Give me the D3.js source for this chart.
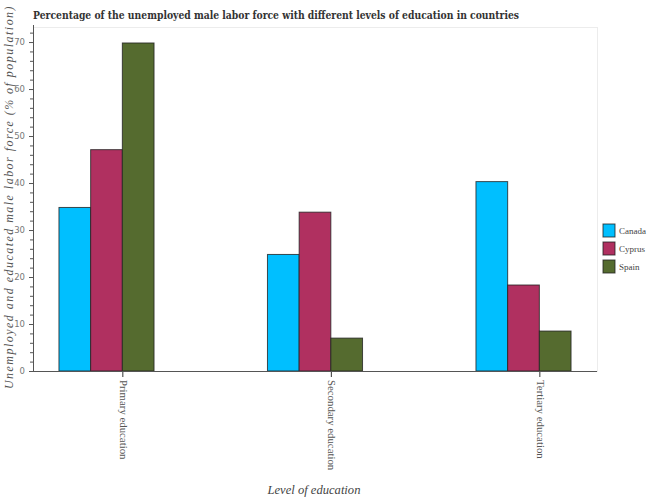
<!DOCTYPE html>
<html>
<head>
<meta charset="utf-8">
<script src="https://cdn.jsdelivr.net/npm/d3@7"></script>
<style>
  body { margin: 0; background: #fff; }
  svg { display: block; }
</style>
</head>
<body>
<div id="chart"></div>
<script>
// chart data
const levels = ["Primary education", "Secondary education", "Tertiary education"];
const countries = ["Canada", "Cyprus", "Spain"];
const canadaValues = [34.8, 24.8, 40.3];
const cyprusValues = [47.1, 33.8, 18.3];
const spainValues = [69.8, 7.0, 8.5];
const yTicks = [0, 10, 20, 30, 40, 50, 60, 70];
const colors = ["#00bfff", "#b03060", "#556b2f"];

const width = 650;
const height = 500;
const marginTop = 27;
const marginRight = 53;
const marginBottom = 129;
const marginLeft = 33;

const series = [canadaValues, cyprusValues, spainValues];
const rows = [];
levels.forEach((lvl, i) => {
    countries.forEach((c, j) => {
        rows.push({ level: lvl, country: c, value: series[j][i] });
    });
});

const svg = d3.select("#chart")
    .append("svg")
    .attr("width", width)
    .attr("height", height)
    .attr("viewBox", [0, 0, width, height]);

// shrink/grow a text's font size so it covers roughly the given length
function fitText(sel, target) {
    const node = sel.node();
    const size = parseFloat(sel.style("font-size"));
    const len = node.getComputedTextLength();
    if (len > 0) sel.style("font-size", (size * target / len).toFixed(2) + "px");
}

// spread letters so the text covers roughly the given length
function spreadText(sel, target) {
    const node = sel.node();
    const len = node.getComputedTextLength();
    const n = sel.text().length;
    if (len > 0) sel.style("letter-spacing", ((target - len) / n).toFixed(2) + "px");
}

// scales
const x0 = d3.scaleBand()
    .domain(levels)
    .range([marginLeft, width - marginRight])
    .paddingInner(0.544)
    .paddingOuter(0.1245);

const x1 = d3.scaleBand()
    .domain(countries)
    .range([0, x0.bandwidth()]);

const y = d3.scaleLinear()
    .domain([0, 73.2])
    .range([height - marginBottom, marginTop]);

const color = d3.scaleOrdinal().domain(countries).range(colors);

// plot frame
svg.append("rect")
    .attr("x", marginLeft + 0.5)
    .attr("y", marginTop + 0.5)
    .attr("width", width - marginRight - marginLeft)
    .attr("height", height - marginBottom - marginTop)
    .attr("fill", "none")
    .attr("stroke", "#ececec")
    .attr("stroke-width", 1);

// bars
svg.append("g")
    .selectAll("rect")
    .data(rows)
    .join("rect")
    .attr("x", d => x0(d.level) + x1(d.country))
    .attr("y", d => y(d.value))
    .attr("width", x1.bandwidth())
    .attr("height", d => y(0) - y(d.value))
    .attr("fill", d => color(d.country))
    .attr("stroke", "#222")
    .attr("stroke-opacity", 0.8)
    .attr("stroke-width", 1);

// y axis with minor ticks
const yAxis = svg.append("g")
    .attr("transform", `translate(${marginLeft},0)`)
    .call(d3.axisLeft(y).tickValues(yTicks).tickSize(4).tickSizeOuter(0).tickPadding(4));

svg.append("g")
    .attr("transform", `translate(${marginLeft},0)`)
    .selectAll("line")
    .data(d3.range(0, 73, 2).filter(v => v % 10 !== 0))
    .join("line")
    .attr("x1", -3)
    .attr("x2", 0)
    .attr("y1", d => y(d) + 0.5)
    .attr("y2", d => y(d) + 0.5)
    .attr("stroke", "#555");

yAxis.select(".domain").attr("stroke", "#555").attr("d", `M0.5,${y(0)}V${marginTop - 2}`);
yAxis.selectAll(".tick line").attr("stroke", "#555").attr("x2", -4).attr("x1", 1);
yAxis.selectAll(".tick text")
    .attr("fill", "#777")
    .style("font-family", "'DejaVu Sans', sans-serif")
    .style("font-size", "8.5px");

// x axis: ticks sit between the 2nd and 3rd bar of each group
const xTick = d3.scaleOrdinal()
    .domain(levels)
    .range(levels.map(l => x0(l) + x1("Spain")));

const xAxis = svg.append("g")
    .attr("transform", `translate(0,${height - marginBottom})`)
    .call(d3.axisBottom(xTick).tickSize(6).tickPadding(4));

xAxis.select(".domain").remove();
xAxis.selectAll(".tick line").attr("stroke", "#333");
xAxis.selectAll(".tick text")
    .attr("transform", "rotate(90)")
    .attr("x", 9)
    .attr("y", -0.5)
    .attr("dy", "0.35em")
    .attr("text-anchor", "start")
    .attr("fill", "#555")
    .style("font-family", "'Liberation Serif', serif")
    .style("font-size", "10.8px");

svg.append("line")
    .attr("x1", marginLeft)
    .attr("x2", width - marginRight)
    .attr("y1", y(0) + 0.5)
    .attr("y2", y(0) + 0.5)
    .attr("stroke", "#555");

// title
const title = svg.append("text")
    .attr("x", marginLeft)
    .attr("y", 19)
    .attr("fill", "#333")
    .style("font-family", "'DejaVu Serif Condensed', 'DejaVu Serif', serif")
    .style("font-stretch", "condensed")
    .style("font-weight", "bold")
    .style("font-size", "11.5px")
    .text("Percentage of the unemployed male labor force with different levels of education in countries");
fitText(title, 486);

// axis titles
const yTitle = svg.append("text")
    .attr("transform", `translate(13,197) rotate(-90)`)
    .attr("text-anchor", "middle")
    .attr("fill", "#555")
    .style("font-family", "'Liberation Serif', serif")
    .style("font-style", "italic")
    .style("font-size", "12px")
    .text("Unemployed and educated male labor force (% of population)");
spreadText(yTitle, 384);

const xTitle = svg.append("text")
    .attr("x", 314)
    .attr("y", 494)
    .attr("text-anchor", "middle")
    .attr("fill", "#444")
    .style("font-family", "'Liberation Serif', serif")
    .style("font-style", "italic")
    .style("font-size", "13px")
    .text("Level of education");
fitText(xTitle, 93);

// legend
const legend = svg.append("g")
    .attr("transform", "translate(603,224)")
    .selectAll("g")
    .data(countries)
    .join("g")
    .attr("transform", (d, i) => `translate(0,${i * 18})`);

legend.append("rect")
    .attr("width", 12)
    .attr("height", 13)
    .attr("fill", d => color(d))
    .attr("stroke", "#222")
    .attr("stroke-opacity", 0.8);

legend.append("text")
    .attr("x", 16)
    .attr("y", 7)
    .attr("dy", "0.35em")
    .attr("fill", "#444")
    .style("font-family", "'Liberation Serif', serif")
    .style("font-size", "9px")
    .text(d => d);
</script>
</body>
</html>
